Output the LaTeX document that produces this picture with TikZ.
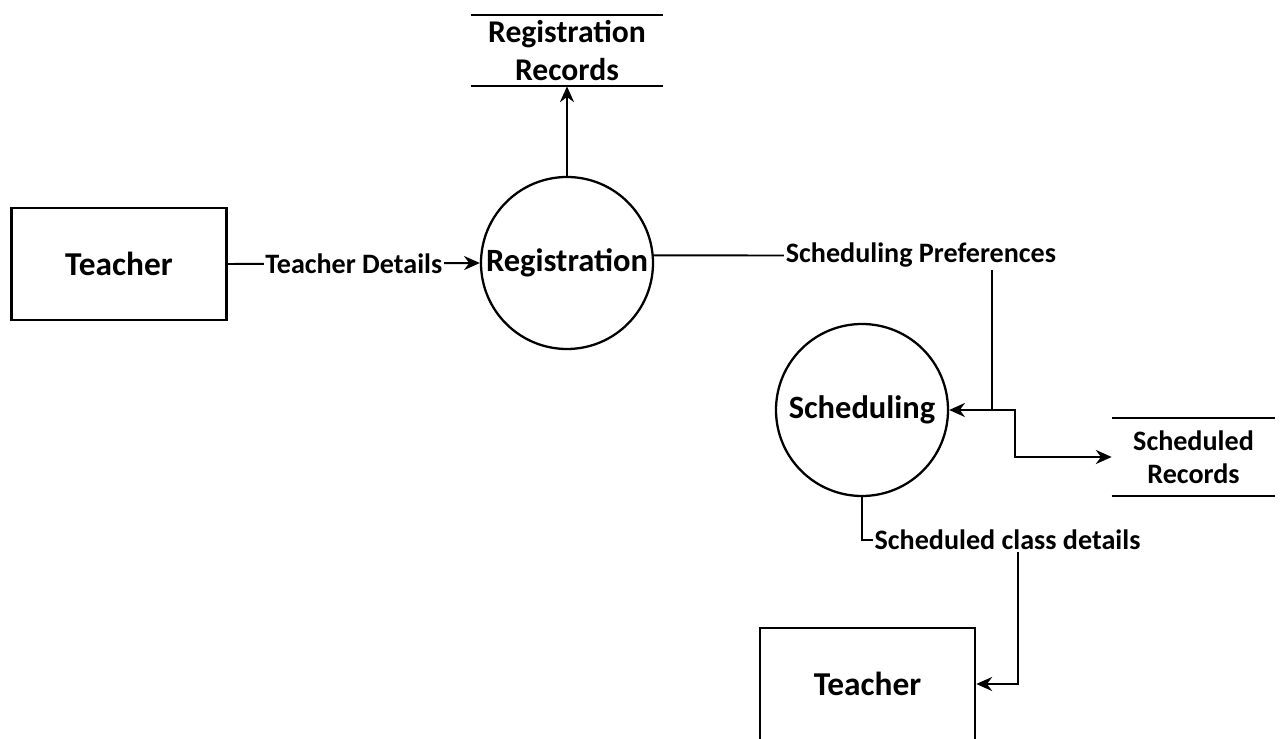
\documentclass[tikz,border=0pt]{standalone}
\usepackage{fontspec}
\setmainfont{Carlito}
\usetikzlibrary{arrows.meta}

\tikzset{
  entity/.style={draw, line width=1.5pt, minimum width=4.3cm, minimum height=2.24cm, font=\bfseries\fontsize{19}{22}\selectfont},
  process/.style={draw, circle, line width=1.3pt, inner sep=0pt, minimum size=3.44cm, font=\bfseries\fontsize{18.5}{22}\selectfont},
  store/.style={align=center, inner sep=0pt, minimum height=1.42cm},
  flowlabel/.style={fill=white, inner sep=1pt, font=\bfseries\fontsize{16}{19}\selectfont},
  flow/.style={line width=1.1pt, -{Stealth[length=9pt,width=8pt]}}
}

\begin{document}
\begin{tikzpicture}
          \useasboundingbox (0,0) rectangle (25.6,14.78);

          % Left entity and registration process
          \node[entity] (teacherA) at (2.38,9.5) {Teacher};
          \node[process] (reg) at (11.34,9.52) {Registration};
          \draw[flow] (teacherA.east) -- (reg.west) node[midway, flowlabel] {Teacher Details};

          % Registration store
          \node[store, minimum width=3.84cm, font=\bfseries\fontsize{18}{21.6}\selectfont] (regrec) at (11.34,13.77) {Registration\\Records};
          \draw[line width=1.1pt] (regrec.north west) -- (regrec.north east);
          \draw[line width=1.1pt] (regrec.south west) -- (regrec.south east);
          \draw[flow] (reg.north) -- (regrec.south);

          % Scheduling process
          \node[flowlabel] (pref) at (18.42,9.67) {Scheduling Preferences};
          \node[process] (sched) at (17.24,6.58) {Scheduling};
          \coordinate (split) at (19.84,6.58);
          \coordinate (bend) at (20.3,6.58);
          \draw[line width=1.1pt] (reg.5) -- (pref.west);
          \draw[line width=1.1pt] (pref.south -| split) -- (split);
          \draw[flow] (split) -- (sched.east);

          % Scheduled store
          \node[store, minimum width=3.26cm, minimum height=1.54cm, font=\bfseries\fontsize{16}{19}\selectfont] (schedrec) at (23.87,5.64) {Scheduled\\Records};
          \draw[line width=1.1pt] (schedrec.north west) -- (schedrec.north east);
          \draw[line width=1.1pt] (schedrec.south west) -- (schedrec.south east);
          \draw[flow] (split) -- (bend) |- (schedrec.west);

          % Right entity
          \node[flowlabel] (cls) at (20.15,3.98) {Scheduled class details};
          \node[entity] (teacherB) at (17.35,1.1) {Teacher};
          \coordinate (drop) at (20.36,1.1);
          \draw[line width=1.1pt] (sched.south) |- (cls.west);
          \draw[flow] (cls.south -| drop) |- (teacherB.east);

      \end{tikzpicture}
\end{document}
